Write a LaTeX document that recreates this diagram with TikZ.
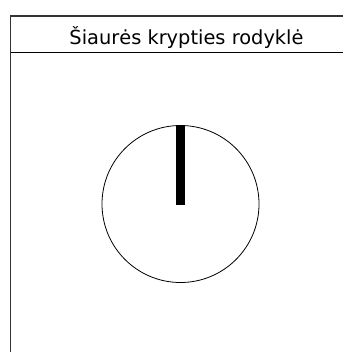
\documentclass[tikz,border=0pt]{standalone}
\usepackage{fontspec}
\setmainfont{DejaVu Sans}
\begin{document}
\begin{tikzpicture}[x=1pt,y=-1pt,
  frame/.style={draw=black!80,line width=1.4pt},
  rule/.style={draw=black,line width=1pt},
  dial/.style={draw=black,line width=0.8pt},
  needle/.style={draw=black,line width=8.5pt}]
\useasboundingbox (0,0) rectangle (342,352);
\draw[frame] (10.5,360) -- (10.5,16) -- (350,16);
\draw[rule] (10.5,53) -- (350,53);
\node[font=\fontsize{19.4}{23}\selectfont,inner sep=0pt,anchor=base] (title) at (186.5,44.7) {Šiaurės krypties rodyklė};
\node[circle,dial,minimum size=157pt,inner sep=0pt] (c) at (180.5,204) {};
\coordinate (tip) at (180.5,125.5);
\coordinate (ctr) at (180.5,205);
\draw[needle] (ctr) -- (tip);
\end{tikzpicture}
\end{document}
